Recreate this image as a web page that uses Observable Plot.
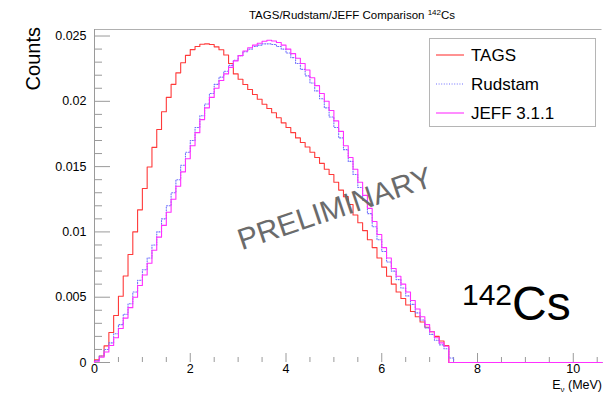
<!DOCTYPE html>
<html><head><meta charset="utf-8">
<script src="https://cdn.jsdelivr.net/npm/d3@7"></script>
<script src="https://cdn.jsdelivr.net/npm/@observablehq/plot@0.6"></script>
<style>
html,body{margin:0;padding:0;background:#fff;}
#chart svg{display:block;}
</style>
</head><body><div id="chart"></div>
<script>
// Histogram bins: 0.1 MeV wide starting at 0 MeV; values in units of 1e-3 counts
const binWidth = 0.1;
const unit = 1e-3;
const tags = [0.2, 0.5, 1.27, 2.3, 3.6, 5.07, 6.62, 8.27, 10.0, 11.69,
  13.33, 14.97, 16.47, 17.84, 19.2, 20.3, 21.3, 22.18, 22.95, 23.52,
  23.96, 24.2, 24.37, 24.4, 24.35, 24.17, 23.95, 23.55, 22.9, 22.1,
  21.69, 21.29, 20.9, 20.52, 20.16, 19.78, 19.45, 19.12, 18.74, 18.35,
  17.99, 17.6, 17.2, 16.85, 16.5, 16.1, 15.7, 15.25, 14.8, 14.4,
  13.8, 13.2, 12.7, 12.1, 11.3, 10.7, 10.1, 9.4, 8.8, 8.0,
  7.3, 6.6, 6.0, 5.4, 4.9, 4.4, 3.9, 3.5, 3.1, 2.7,
  2.35, 2.0, 1.65, 1.3];
const rudstam = [0.15, 0.5, 1.0, 1.5, 2.2, 2.9, 3.7, 4.5, 5.4, 6.3,
  7.1, 8.0, 9.0, 10.0, 11.0, 12.0, 13.0, 14.0, 15.1, 16.1,
  17.0, 18.0, 18.9, 19.8, 20.6, 21.3, 21.85, 22.3, 22.75, 23.15,
  23.5, 23.8, 24.0, 24.2, 24.3, 24.4, 24.4, 24.35, 24.2, 24.0,
  23.7, 23.35, 22.9, 22.45, 21.95, 21.4, 20.8, 20.2, 19.5, 18.8,
  18.0, 17.2, 16.3, 15.4, 14.4, 13.4, 12.4, 11.4, 10.4, 9.4,
  8.5, 7.7, 7.0, 6.35, 5.7, 5.1, 4.45, 3.8, 3.25, 2.65,
  2.15, 1.7, 1.35, 1.05, 0.35];
const jeff = [0.1, 0.4, 0.8, 1.3, 1.9, 2.6, 3.4, 4.2, 5.0, 5.9,
  6.7, 7.6, 8.6, 9.6, 10.5, 11.5, 12.5, 13.5, 14.6, 15.6,
  16.6, 17.6, 18.6, 19.5, 20.3, 21.0, 21.6, 22.1, 22.6, 23.1,
  23.5, 23.85, 24.1, 24.3, 24.45, 24.6, 24.68, 24.62, 24.5, 24.3,
  24.0, 23.65, 23.3, 22.9, 22.4, 21.8, 21.2, 20.6, 20.0, 19.3,
  18.5, 17.7, 16.6, 15.7, 14.8, 13.8, 12.8, 11.8, 10.8, 9.8,
  8.8, 8.0, 7.2, 6.6, 6.0, 5.4, 4.75, 4.1, 3.5, 2.9,
  2.35, 1.9, 1.5, 1.25];

const seriesNames = ["TAGS", "Rudstam", "JEFF 3.1.1"];
const seriesColors = ["#ff3a3a", "#7070ff", "#ff30ff"];
const seriesDash = [null, "1,1.6", null];

const xDomain = [0, 10.6];
const yDomain = [0, 0.0255];
const xTicks = [0, 2, 4, 6, 8, 10];
const xMinorTicks = [0.5, 1, 1.5, 2.5, 3, 3.5, 4.5, 5, 5.5, 6.5, 7, 7.5, 8.5, 9, 9.5, 10.5];
const yTicks = [0, 0.005, 0.01, 0.015, 0.02, 0.025];
const yMinorTicks = [0.001, 0.002, 0.003, 0.004, 0.006, 0.007, 0.008, 0.009, 0.011, 0.012, 0.013, 0.014,
  0.016, 0.017, 0.018, 0.019, 0.021, 0.022, 0.023, 0.024];

function steps(values) {
  const pts = [{x: 0, y: 0}];
  values.forEach((v, i) => pts.push({x: i * binWidth, y: v * unit}));
  pts.push({x: values.length * binWidth, y: 0});
  pts.push({x: xDomain[1], y: 0});
  return pts;
}
const allSeries = [tags, rudstam, jeff];

const W = 608, H = 393;
const axisGrey = "#9a9a9a";
const chart = Plot.plot({
  width: W, height: H,
  marginLeft: 94, marginRight: 6.5, marginTop: 29, marginBottom: 31,
  style: {fontFamily: "'Liberation Sans', Arial, sans-serif", fontSize: "12.5px", background: "#fff", color: "#000"},
  x: {domain: xDomain},
  y: {domain: yDomain},
  marks: [
    Plot.ruleY([yDomain[1]], {stroke: "#b0b0b0"}),
    Plot.ruleX([xDomain[0]], {stroke: axisGrey}),
    Plot.axisY(yMinorTicks, {tickSize: -8, tickFormat: () => "", stroke: axisGrey, label: null}),
    Plot.axisY(yTicks, {tickSize: -16, tickFormat: () => "", stroke: axisGrey, label: null}),
    Plot.axisY(yTicks, {tickSize: 0, tickPadding: 8, tickFormat: d => String(d), label: null, fontSize: 12.5}),
    Plot.axisX(xMinorTicks, {tickSize: -5, tickFormat: () => "", stroke: axisGrey, label: null}),
    Plot.axisX(xTicks, {tickSize: -9, tickFormat: () => "", stroke: axisGrey, label: null}),
    Plot.axisX(xTicks, {tickSize: 0, tickPadding: 2, tickFormat: d => String(d), label: null, fontSize: 12.5}),
    ...allSeries.map((s, k) => Plot.line(steps(s), {
      x: "x", y: "y", curve: "step-after",
      stroke: seriesColors[k], strokeWidth: 1.1,
      strokeDasharray: seriesDash[k] || undefined
    }))
  ]
});
document.getElementById("chart").appendChild(chart);

const svg = d3.select(chart);
const font = "'Liberation Sans', Arial, sans-serif";
// Title
const title = svg.append("text").attr("x", 352).attr("y", 19).attr("text-anchor", "middle")
  .attr("font-family", font).attr("font-size", 11.5).attr("fill", "#000");
title.append("tspan").text("TAGS/Rudstam/JEFF Comparison ");
title.append("tspan").attr("font-size", 8).attr("dy", -4).text("142");
title.append("tspan").attr("dy", 4).text("Cs");
// Y axis title
svg.append("text").attr("transform", "translate(40,27) rotate(-90)").attr("text-anchor", "end")
  .attr("font-family", font).attr("font-size", 20).attr("fill", "#000").text("Counts");
// X axis title
const xt = svg.append("text").attr("x", 602).attr("y", 389).attr("text-anchor", "end")
  .attr("font-family", font).attr("font-size", 12.5).attr("fill", "#000");
xt.append("tspan").text("E");
xt.append("tspan").attr("font-size", 8).attr("dy", 3).text("ν");
xt.append("tspan").attr("dy", -3).text(" (MeV)");
// PRELIMINARY watermark
svg.append("text").attr("transform", "translate(338,218) rotate(-18.5)").attr("text-anchor", "middle")
  .attr("font-family", font).attr("font-size", 30).attr("fill", "#6b6b6b").text("PRELIMINARY");
// 142Cs label
const iso = svg.append("text").attr("x", 462).attr("y", 320).attr("text-anchor", "start")
  .attr("font-family", font).attr("fill", "#000");
iso.append("tspan").attr("font-size", 30).attr("dy", -15).text("142");
iso.append("tspan").attr("font-size", 48).attr("dy", 15).text("Cs");
// Legend
const lg = svg.append("g");
lg.append("rect").attr("x", 429.5).attr("y", 38.5).attr("width", 166).attr("height", 88)
  .attr("fill", "#fff").attr("stroke", "#b5b5b5");
seriesNames.forEach((name, k) => {
  const y = 55 + k * 29;
  lg.append("line").attr("x1", 436).attr("x2", 464).attr("y1", y).attr("y2", y)
    .attr("stroke", seriesColors[k]).attr("stroke-width", 1.1)
    .attr("stroke-dasharray", seriesDash[k]);
  lg.append("text").attr("x", 471).attr("y", y).attr("dy", "0.36em").attr("text-anchor", "start")
    .attr("font-family", font).attr("font-size", 17).attr("fill", "#000").text(name);
});
</script>
</body></html>
